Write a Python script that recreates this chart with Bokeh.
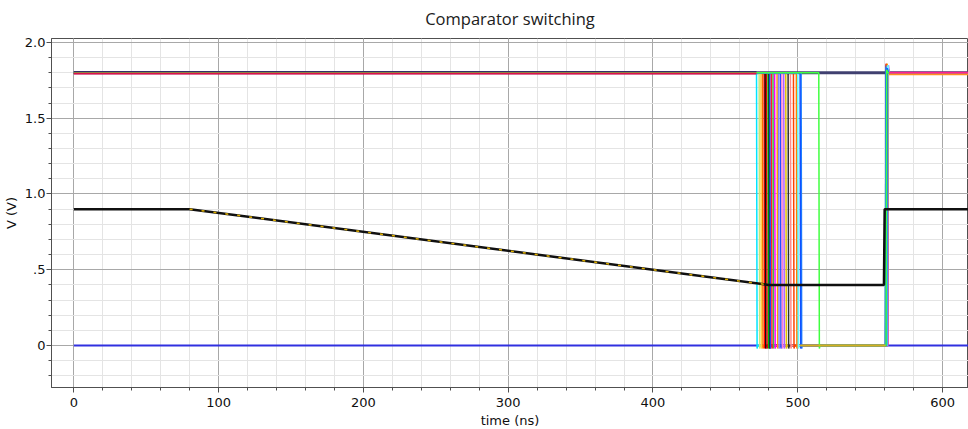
from bokeh.plotting import figure
from bokeh.models import FixedTicker, CustomJSTickFormatter, Range1d
from bokeh.embed import file_html
from bokeh.resources import INLINE

# ---------------- data ----------------
title_text = "Comparator switching"
x_label = "time (ns)"
y_label = "V (V)"

x_tick_values = [0, 100, 200, 300, 400, 500, 600]
x_tick_labels = ["0", "100", "200", "300", "400", "500", "600"]
x_minor_values = [v for v in range(-20, 640, 20)]
y_tick_values = [0.0, 0.5, 1.0, 1.5, 2.0]
y_tick_labels = ["0", ".5", "1.0", "1.5", "2.0"]
y_minor_values = [-0.2, -0.1, 0.0, 0.1, 0.2, 0.3, 0.4, 0.5, 0.6, 0.7, 0.8, 0.9,
                  1.0, 1.1, 1.2, 1.3, 1.4, 1.5, 1.6, 1.7, 1.8, 1.9, 2.0]

t_end = 620.0
vdd = 1.8

# input ramp (black)
vin_t = [0, 80, 480, 559.5, 560.0, 620]
vin_v = [0.9, 0.9, 0.4, 0.4, 0.9, 0.9]

# ground reference line (blue)
gnd_t = [0, 620]
gnd_v = [0.0, 0.0]

# comparator outputs (Monte Carlo runs): falling-edge time, rising-edge time, colour
fall_times = [471.5, 473.3, 474.5, 475.6, 476.8, 477.5, 478.4, 479.5, 480.2,
              480.7, 481.8, 482.9, 484.0, 485.7, 486.7, 488.0, 489.0, 490.3,
              491.7, 493.3, 494.9, 497.0, 499.0, 500.0, 502.3, 501.6, 514.5]
rise_times = [560.5, 561.0, 561.2, 560.8, 561.5, 561.0, 560.6, 561.8, 561.2,
              560.9, 561.4, 561.7, 562.0, 561.3, 561.9, 560.7, 561.1, 562.2,
              561.6, 560.9, 561.5, 562.0, 561.2, 561.8, 560.5, 561.4, 561.0]
peak_v = [1.84, 1.82, 1.83, 1.85, 1.82, 1.84, 1.86, 1.83, 1.82, 1.85, 1.83,
          1.84, 1.82, 1.86, 1.83, 1.82, 1.84, 1.85, 1.83, 1.82, 1.84, 1.83,
          1.82, 1.85, 1.84, 1.83, 1.82]
trace_colors = ["#00e5ff", "#c8e67a", "#ffd040", "#ff6a00", "#ff0000", "#101010",
                "#e00000", "#00c000", "#003000", "#2040ff", "#ff2020", "#40c040",
                "#ff00ff", "#ff9a00", "#8080ff", "#2050ff", "#ff80d0", "#b060ff",
                "#e0c000", "#303030", "#ff8c8c", "#ff4000", "#ff8000", "#60ffff",
                "#2080ff", "#1050ff", "#40ff40"]

x_lo, x_hi = -15.4, 617.9
y_lo, y_hi = -0.277, 2.026

# ---------------- figure ----------------
p = figure(frame_width=917, frame_height=349, output_backend="svg", toolbar_location=None,
           x_range=Range1d(x_lo, x_hi), y_range=Range1d(y_lo, y_hi),
           min_border_left=43, min_border_right=0, min_border_top=37,
           min_border_bottom=30, title=title_text)

p.title.align = "center"
p.title.vertical_align = "top"
p.title.standoff = 13
p.title.text_font = "Open Sans"
p.title.text_font_size = "16.5px"
p.title.text_font_style = "normal"
p.title.text_color = "#202020"

p.background_fill_color = "white"
p.border_fill_color = "white"
p.outline_line_color = "#505050"
p.outline_line_width = 1

p.xaxis.ticker = FixedTicker(ticks=x_tick_values, minor_ticks=x_minor_values)
p.yaxis.ticker = FixedTicker(ticks=y_tick_values, minor_ticks=y_minor_values)
p.xaxis.formatter = CustomJSTickFormatter(
    args=dict(v=x_tick_values, l=x_tick_labels),
    code="const i = v.findIndex(x => Math.abs(x - tick) < 1e-9); return i >= 0 ? l[i] : '';")
p.yaxis.formatter = CustomJSTickFormatter(
    args=dict(v=y_tick_values, l=y_tick_labels),
    code="const i = v.findIndex(x => Math.abs(x - tick) < 1e-9); return i >= 0 ? l[i] : '';")

for ax in (p.xaxis, p.yaxis):
    ax.axis_line_color = "#505050"
    ax.major_tick_line_color = "#505050"
    ax.minor_tick_line_color = "#505050"
    ax.major_tick_out = 5
    ax.major_tick_in = 0
    ax.minor_tick_out = 3
    ax.minor_tick_in = 0
    ax.major_label_text_font = "DejaVu Sans"
    ax.major_label_text_font_size = "13px"
    ax.major_label_text_color = "#101010"
    ax.axis_label_text_font = "DejaVu Sans"
    ax.axis_label_text_font_size = "13px"
    ax.axis_label_text_font_style = "normal"
    ax.axis_label_text_color = "#101010"

p.xaxis.axis_label = x_label
p.yaxis.axis_label = y_label
p.xaxis.major_label_standoff = 5
p.xaxis.axis_label_standoff = 3
p.yaxis.major_label_standoff = 1
p.yaxis.axis_label_standoff = 3

for g in (p.xgrid, p.ygrid):
    g.grid_line_color = "#a8a8a8"
    g.grid_line_width = 1
    g.minor_grid_line_color = "#e4e4e4"
    g.minor_grid_line_width = 1

# ground line
p.line(gnd_t, gnd_v, line_color="#3030e0", line_width=2)
# supply line beneath comparator traces
p.line([0, t_end], [vdd, vdd], line_color="#404070", line_width=3)

# comparator traces
for tf, tr, pk, c in zip(fall_times, rise_times, peak_v, trace_colors):
    xs = [0, tf, tf + 0.4, tf + 0.8, tr, tr + 0.4, tr + 1.2, t_end]
    ys = [vdd, vdd, -0.02, 0.0, 0.0, pk, vdd, vdd]
    p.line(xs, ys, line_color=c, line_width=1.5)

# zero-level segment on top (gold) and supply lines on top
p.line([fall_times[-2], rise_times[0]], [0, 0], line_color="#d4b020", line_width=2)
p.line([0, fall_times[0]], [vdd - 0.005, vdd - 0.005], line_color="#e0104a", line_width=2)
p.line([0, fall_times[0]], [vdd + 0.008, vdd + 0.008], line_color="#303068", line_width=1)
p.line([rise_times[-1] + 2, t_end], [vdd, vdd], line_color="#ff2090", line_width=2)
p.line([rise_times[-1] + 2, t_end], [vdd - 0.012, vdd - 0.012], line_color="#ff9020", line_width=1.5)

# input ramp
p.line(vin_t, vin_v, line_color="#101010", line_width=2.5)
p.line(vin_t[1:3], vin_v[1:3], line_color="#e0b000", line_width=1.5, line_dash="3 9")

open("out.html", "w").write(file_html(p, INLINE))
